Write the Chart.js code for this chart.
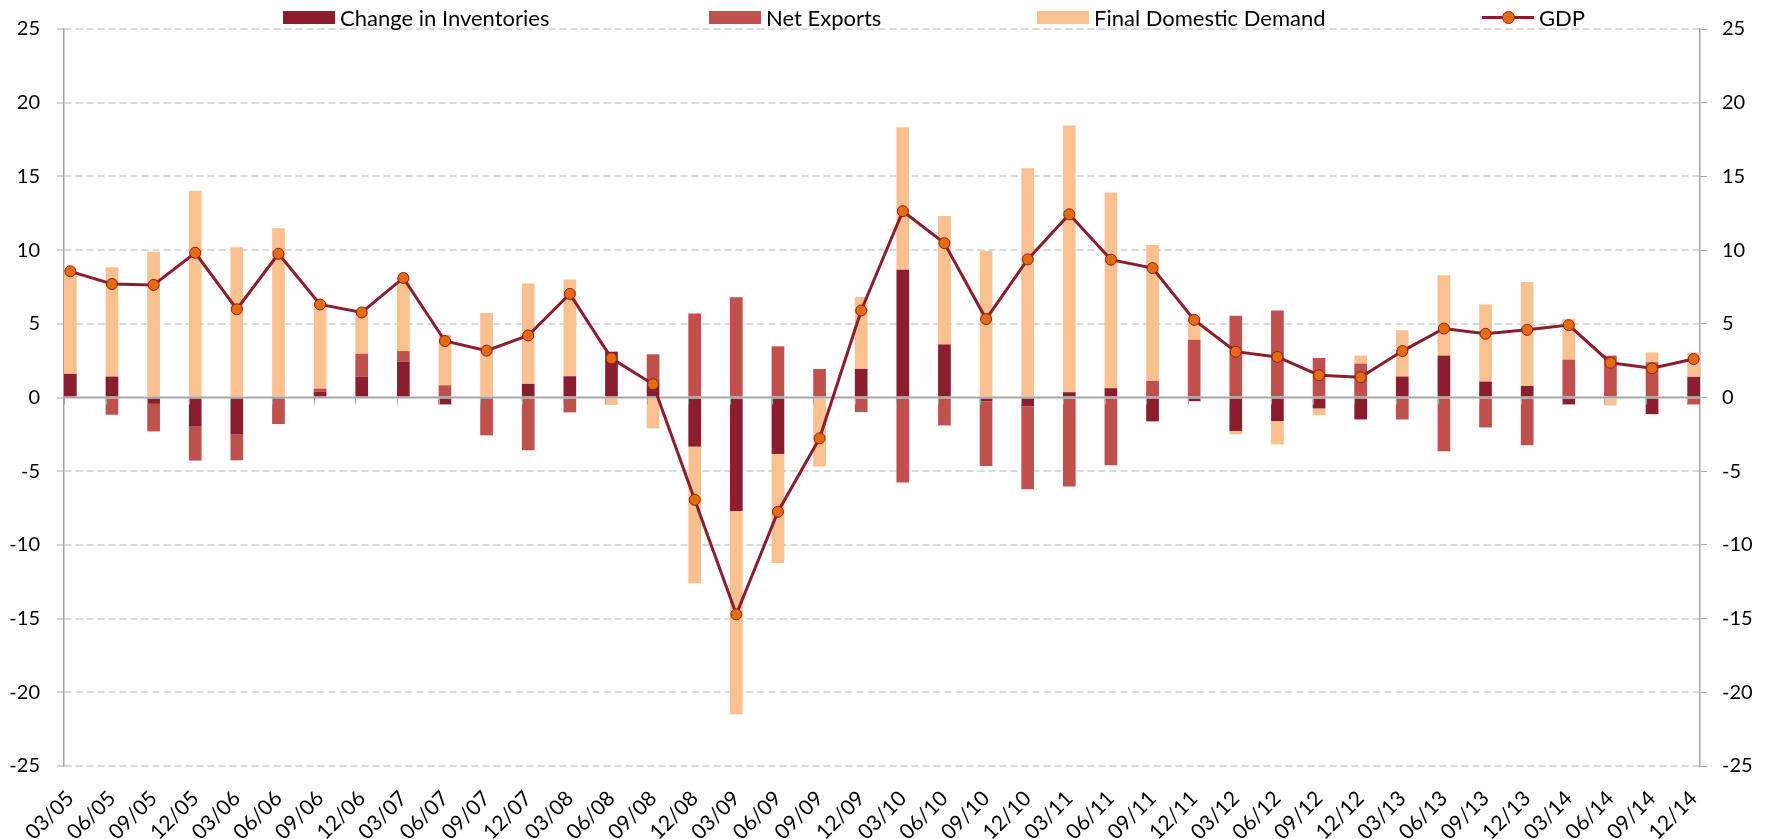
<!DOCTYPE html>
<html>
<head>
<meta charset="utf-8">
<script src="https://cdn.jsdelivr.net/npm/chart.js@4.4.1/dist/chart.umd.min.js"></script>
<style>
  body { margin: 0; background: #fff; }
  #wrap { position: relative; width: 1772px; height: 839px; }
  #legend { position: absolute; top: 0; left: 0; width: 100%; height: 30px; font: 22px Lato, sans-serif; color: #000; }
  .item { position: absolute; top: 5px; height: 24px; display: flex; align-items: center; white-space: nowrap; }
  .swatch { width: 52px; height: 13px; margin-right: 5px; }
  .lineKey { position: relative; width: 52px; height: 13px; margin-right: 5px; }
  .lineKey .bar { position: absolute; left: 0; right: 0; top: 5px; height: 3px; }
  .lineKey .dot { position: absolute; left: 20px; top: 0; width: 11px; height: 11px; border-radius: 50%; border: 1px solid; }
</style>
</head>
<body>
<div id="wrap">
  <canvas id="chart" width="1772" height="839"></canvas>
  <div id="legend"></div>
</div>
<script>
// Quarter labels
const categories = [
  "03/05", "06/05", "09/05", "12/05", "03/06", "06/06", "09/06", "12/06",
  "03/07", "06/07", "09/07", "12/07", "03/08", "06/08", "09/08", "12/08",
  "03/09", "06/09", "09/09", "12/09", "03/10", "06/10", "09/10", "12/10",
  "03/11", "06/11", "09/11", "12/11", "03/12", "06/12", "09/12", "12/12",
  "03/13", "06/13", "09/13", "12/13", "03/14", "06/14", "09/14", "12/14"
];

// Contributions
const inventories = [
  1.60, 1.42, -0.43, -1.98, -2.48, -0.10, 0.41, 1.42,
  2.43, -0.47, -0.10, 0.92, 1.44, 3.11, 0.90, -3.33,
  -7.70, -3.83, 0.00, 1.94, 8.67, 3.60, -0.25, -0.59,
  0.36, 0.63, -1.62, -0.25, -2.27, -1.60, -0.74, -1.49,
  1.42, 2.84, 1.08, 0.79, -0.47, 0.00, -1.13, 1.40
];
const netExports = [
  0.00, -1.17, -1.87, -2.30, -1.78, -1.70, 0.20, 1.55,
  0.72, 0.83, -2.47, -3.58, -1.01, 0.00, 2.03, 5.70,
  6.80, 3.47, 1.94, -0.99, -5.77, -1.89, -4.39, -5.63,
  -6.04, -4.59, 1.13, 3.92, 5.54, 5.90, 2.68, 2.30,
  -1.49, -3.65, -2.03, -3.24, 2.57, 2.84, 2.39, -0.47
];
const finalDemand = [
  6.95, 7.41, 9.89, 14.03, 10.20, 11.49, 5.70, 2.80,
  5.00, 3.43, 5.74, 6.81, 6.56, -0.50, -2.09, -9.28,
  -13.79, -7.39, -4.68, 4.88, 9.66, 8.72, 9.95, 15.56,
  18.09, 13.27, 9.21, 1.62, -0.23, -1.58, -0.45, 0.54,
  3.15, 5.45, 5.23, 7.05, 2.75, -0.54, 0.67, 1.66
];
const gdp = [
  8.56, 7.70, 7.64, 9.82, 5.99, 9.75, 6.31, 5.77,
  8.11, 3.83, 3.18, 4.21, 7.03, 2.66, 0.90, -6.94,
  -14.71, -7.75, -2.77, 5.90, 12.64, 10.47, 5.32, 9.37,
  12.43, 9.35, 8.78, 5.27, 3.11, 2.75, 1.51, 1.37,
  3.15, 4.68, 4.32, 4.59, 4.91, 2.36, 1.98, 2.61
];

const seriesNames = ["Change in Inventories", "Net Exports", "Final Domestic Demand", "GDP"];
const colors = ["#8B1E2E", "#C0504D", "#FAC090", "#8B1E2E"];
const markerColor = "#E46C0A";
const tickValues = [-25, -20, -15, -10, -5, 0, 5, 10, 15, 20, 25];

const barFrac = 0.305;   // bar width as share of one quarter
const fontSpec = { family: "Lato", size: 20 };
const xy = vals => vals.map((v, i) => ({ x: i, y: v }));

// HTML legend
const legendLeft = [283, 709, 1037, 1482];
const legend = document.getElementById("legend");
seriesNames.forEach((name, i) => {
  const item = document.createElement("div");
  item.className = "item";
  item.style.left = legendLeft[i] + "px";
  if (i < 3) {
    item.innerHTML = `<span class="swatch" style="background:${colors[i]}"></span>${name}`;
  } else {
    item.innerHTML = `<span class="lineKey"><span class="bar" style="background:${colors[i]}"></span>` +
      `<span class="dot" style="background:${markerColor};border-color:${colors[i]}"></span></span>${name}`;
  }
  legend.appendChild(item);
});

// zero axis line with small category ticks, drawn under the GDP line
const zeroLine = {
  id: "zeroLine",
  beforeDatasetDraw(chart, args) {
    if (args.index !== 3) return;
    const { ctx, chartArea, scales } = chart;
    const y0 = scales.y.getPixelForValue(0);
    ctx.save();
    ctx.strokeStyle = "#a6a6a6";
    ctx.lineWidth = 2;
    ctx.beginPath();
    ctx.moveTo(chartArea.left, y0);
    ctx.lineTo(chartArea.right, y0);
    ctx.stroke();
    ctx.lineWidth = 1;
    ctx.beginPath();
    chart.getDatasetMeta(0).data.forEach(bar => {
      const x = Math.round(bar.x - bar.width / 2) + 0.5;
      ctx.moveTo(x, y0);
      ctx.lineTo(x, y0 + 7);
    });
    ctx.stroke();
    ctx.restore();
  }
};

const yTicks = (padding) => ({
  padding: padding,
  color: "#000",
  font: fontSpec,
  stepSize: 5
});

new Chart(document.getElementById("chart").getContext("2d"), {
  type: "bar",
  data: {
    datasets: [
      { label: seriesNames[0], data: xy(inventories), backgroundColor: colors[0], order: 1 },
      { label: seriesNames[1], data: xy(netExports), backgroundColor: colors[1], order: 1 },
      { label: seriesNames[2], data: xy(finalDemand), backgroundColor: colors[2], order: 1 },
      {
        type: "line", label: seriesNames[3], data: xy(gdp), yAxisID: "y2", order: 0,
        borderColor: colors[3], borderWidth: 3, tension: 0,
        pointRadius: 5.5, pointBorderWidth: 1,
        pointBackgroundColor: markerColor, pointBorderColor: colors[3]
      }
    ]
  },
  options: {
    responsive: false,
    animation: false,
    barPercentage: barFrac,
    categoryPercentage: 1,
    layout: { padding: { top: 26, left: 0, right: 0, bottom: 0 } },
    plugins: { legend: { display: false }, tooltip: { enabled: false } },
    scales: {
      x: {
        type: "linear",
        offset: false,
        stacked: true,
        min: -barFrac / 2,
        max: categories.length - 1 + barFrac / 2,
        grid: { display: false, offset: false },
        border: { display: false },
        ticks: {
          stepSize: 1, includeBounds: false, autoSkip: false,
          minRotation: 45, maxRotation: 45, padding: 12,
          color: "#000", font: { family: "Lato", size: 21 },
          callback: v => categories[v] ?? ""
        },
        afterFit: s => { s.height = 73; }
      },
      y: {
        stacked: true,
        min: tickValues[0], max: tickValues[tickValues.length - 1],
        ticks: yTicks(17),
        grid: {
          color: c => (c.tick && c.tick.value === 0) ? "rgba(0,0,0,0)" : "#d9d9d9",
          lineWidth: 2, tickLength: 7, tickColor: "#a6a6a6", tickWidth: 1
        },
        border: { color: "#a6a6a6", width: 1.5, dash: [7, 4] },
        afterFit: s => { s.width = 64; }
      },
      y2: {
        position: "right",
        min: tickValues[0], max: tickValues[tickValues.length - 1],
        ticks: yTicks(15),
        grid: { drawOnChartArea: false, tickLength: 7, tickColor: "#a6a6a6", tickWidth: 1 },
        border: { color: "#a6a6a6", width: 1.5 },
        afterFit: s => { s.width = 72; }
      }
    }
  },
  plugins: [zeroLine]
});
</script>
</body>
</html>
